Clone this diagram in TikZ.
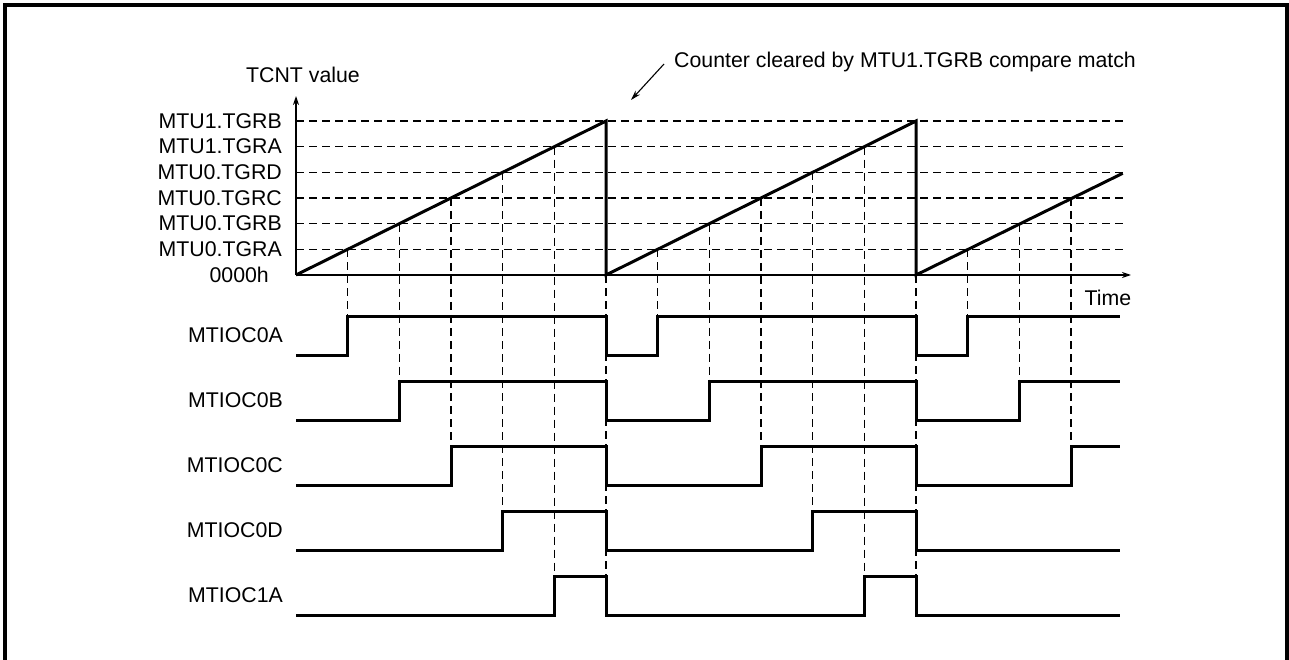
\documentclass[tikz,border=0pt]{standalone}
\usepackage{fontspec}
\setmainfont{Liberation Sans}
\usetikzlibrary{arrows.meta}
\begin{document}
\begin{tikzpicture}[x=1pt,y=-1pt,
  lbl/.style={font=\fontsize{21.3}{25}\selectfont, inner sep=0pt},
  sig/.style={line width=3pt, line join=miter},
  gridline/.style={line width=1.3pt, dash pattern=on 8pt off 5pt},
  axisline/.style={line width=1.5pt},
  frameline/.style={line width=3.5pt}]
\useasboundingbox (0,0) rectangle (1289,660);
% frame (bottom edge lies outside the picture)
\coordinate (fBL) at (5,664);
\coordinate (fTL) at (5,5);
\coordinate (fTR) at (1287,5);
\coordinate (fBR) at (1287,664);
\draw[frameline] (fBL) -- (fTL) -- (fTR) -- (fBR);

% axes
\coordinate (O) at (296,275);
\coordinate (Ytip) at (296,96);
\coordinate (Xtip) at (1131,275);
\draw[axisline,-{Stealth[length=9pt,width=6pt]}] (O) -- (Ytip);
\draw[axisline,-{Stealth[length=9pt,width=6pt]}] (O) -- (Xtip);
\node[lbl] (tcnt) at (303,75) {TCNT value};
\node[lbl] (time) at (1108,298) {Time};

% level lines and labels
\node[lbl,anchor=east] (l0) at (269,275) {0000h};
\foreach \i/\n in {1/MTU0.TGRA,2/MTU0.TGRB,3/MTU0.TGRC,4/MTU0.TGRD,5/MTU1.TGRA,6/MTU1.TGRB}{
  \pgfmathsetmacro{\yy}{275-\i*25.667}
  \coordinate (hL\i) at (296,\yy);
  \coordinate (hR\i) at (1127,\yy);
  \node[lbl,anchor=east] (l\i) at (282,\yy) {\n};
  \draw[gridline] (hL\i) -- (hR\i);
}

% vertical dashed guides at compare matches
\foreach \m in {0,1,2}{
  \foreach \k in {0,...,4}{
    \pgfmathsetmacro{\xx}{296+310*\m+(\k+1)*51.667}
    \pgfmathsetmacro{\ya}{275-(\k+1)*25.667}
    \pgfmathsetmacro{\yb}{316+65*\k}
    \pgfmathtruncatemacro{\ok}{(\m<2 || \k<3) ? 1 : 0}
    \ifnum\ok=1
      \coordinate (vT\m\k) at (\xx,\ya);
      \coordinate (vB\m\k) at (\xx,\yb);
      \draw[gridline] (vT\m\k) -- (vB\m\k);
    \fi
  }
}
% clear guides
\coordinate (cT1) at (606,275); \coordinate (cB1) at (606,616);
\coordinate (cT2) at (916,275); \coordinate (cB2) at (916,616);
\draw[gridline] (cT1) -- (cB1);
\draw[gridline] (cT2) -- (cB2);

% counter ramp
\coordinate (p1t) at (606,121); \coordinate (p1b) at (606,275);
\coordinate (p2t) at (916,121); \coordinate (p2b) at (916,275);
\coordinate (p3e) at (1122.7,173.3);
\draw[sig] (O) -- (p1t) -- (p1b) -- (p2t) -- (p2b) -- (p3e);

% output waveforms
\foreach \k/\n in {0/MTIOC0A,1/MTIOC0B,2/MTIOC0C,3/MTIOC0D,4/MTIOC1A}{
  \pgfmathsetmacro{\yH}{316+65*\k}
  \pgfmathsetmacro{\yL}{355.5+65*\k}
  \pgfmathsetmacro{\ym}{335.5+65*\k}
  \pgfmathsetmacro{\ra}{296+(\k+1)*51.667}
  \pgfmathsetmacro{\rb}{606+(\k+1)*51.667}
  \pgfmathsetmacro{\rc}{916+(\k+1)*51.667}
  \node[lbl,anchor=east] (s\k) at (283,\ym) {\n};
  \ifnum\k<3
    \draw[sig] (296,\yL) -- (\ra,\yL) -- (\ra,\yH) -- (606,\yH) -- (606,\yL)
      -- (\rb,\yL) -- (\rb,\yH) -- (916,\yH) -- (916,\yL)
      -- (\rc,\yL) -- (\rc,\yH) -- (1120,\yH);
  \else
    \draw[sig] (296,\yL) -- (\ra,\yL) -- (\ra,\yH) -- (606,\yH) -- (606,\yL)
      -- (\rb,\yL) -- (\rb,\yH) -- (916,\yH) -- (916,\yL) -- (1120,\yL);
  \fi
}

% annotation
\node[lbl,anchor=west] (note) at (674,62) {Counter cleared by MTU1.TGRB compare match};
\coordinate (aS) at (664,64);
\coordinate (aE) at (631,100);
\draw[line width=1.1pt,-{Stealth[length=10pt,width=6pt]}] (aS) -- (aE);
\end{tikzpicture}
\end{document}
